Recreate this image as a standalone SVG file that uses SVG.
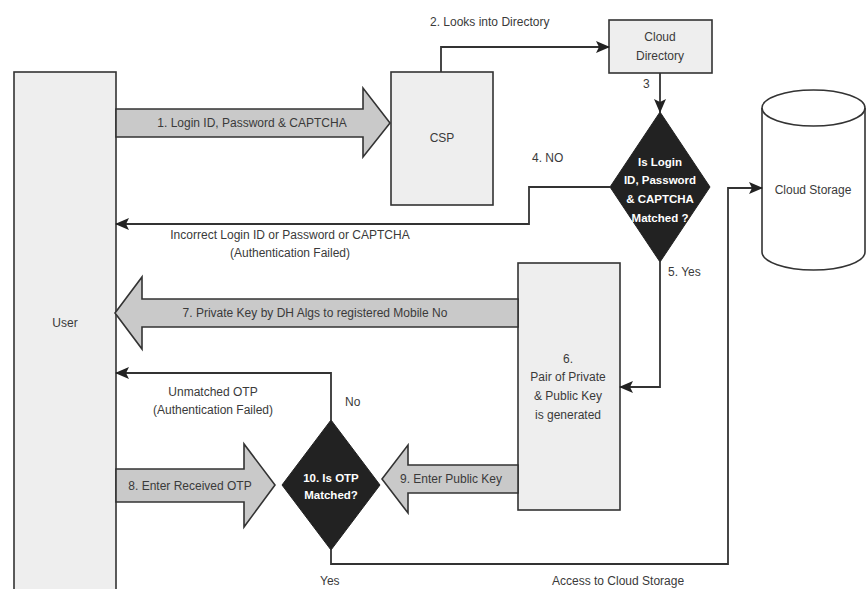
<svg xmlns="http://www.w3.org/2000/svg" width="866" height="589" viewBox="0 0 866 589">
<defs>
<style>
text{font-family:"Liberation Sans",Arial,sans-serif;font-size:12px;fill:#3a3a3a}
.c{text-anchor:middle}
.w{fill:#ffffff;font-weight:bold;font-size:11.5px}
.box{fill:#eeeeee;stroke:#333333;stroke-width:1.6}
.blk{fill:#c9c9c9;stroke:#333333;stroke-width:1.6;stroke-linejoin:miter}
.dia{fill:#222222;stroke:#222222;stroke-width:1}
.ln{fill:none;stroke:#333333;stroke-width:1.8}
</style>
<marker id="ah" markerWidth="14" markerHeight="12" refX="13" refY="6" orient="auto" markerUnits="userSpaceOnUse">
<path d="M0,0 L14,6 L0,12 L3,6 Z" fill="#222222"/>
</marker>
</defs>
<rect width="866" height="589" fill="#ffffff"/>

<g id="user">
<rect class="box" x="14" y="72" width="102" height="520"/>
<text class="c" x="65" y="327">User</text>
</g>

<g id="csp">
<rect class="box" x="391" y="72" width="102" height="133"/>
<text class="c" x="442" y="142">CSP</text>
</g>

<g id="cloud-directory">
<rect class="box" x="609" y="20" width="103" height="53"/>
<text class="c" x="660" y="41">Cloud</text>
<text class="c" x="660" y="60">Directory</text>
</g>

<g id="decision-login">
<polygon class="dia" points="660,112 710,187 660,262 610,187"/>
<text class="c w" x="660" y="166">Is Login</text>
<text class="c w" x="660" y="184">ID, Password</text>
<text class="c w" x="660" y="203">&amp; CAPTCHA</text>
<text class="c w" x="660" y="222">Matched ?</text>
</g>

<g id="cloud-storage">
<path d="M762,108 A51.5,18 0 0 1 865,108 V252 A51.5,18 0 0 1 762,252 Z" fill="#ffffff" stroke="#333333" stroke-width="1.6"/>
<path d="M762,108 A51.5,18 0 0 0 865,108" fill="none" stroke="#333333" stroke-width="1.6"/>
<text class="c" x="813" y="194">Cloud Storage</text>
</g>

<g id="keygen">
<rect class="box" x="518" y="263" width="102" height="247"/>
<text class="c" x="568" y="363">6.</text>
<text class="c" x="568" y="381">Pair of Private</text>
<text class="c" x="568" y="400">&amp; Public Key</text>
<text class="c" x="568" y="419">is generated</text>
</g>

<g id="decision-otp">
<polygon class="dia" points="331,420 380,485 331,550 282,485"/>
<text class="c w" x="331" y="482">10. Is OTP</text>
<text class="c w" x="331" y="499">Matched?</text>
</g>

<g id="connectors">
<g id="block-arrows">
<path class="blk" d="M116,109 L363,109 L363,88 L390,123 L363,157 L363,137 L116,137 Z"/>
<text class="c" x="252" y="127">1. Login ID, Password &amp; CAPTCHA</text>
<path class="blk" d="M518,299 L142,299 L142,277 L115,313 L142,349 L142,327 L518,327 Z"/>
<text class="c" x="315" y="317">7. Private Key by DH Algs to registered Mobile No</text>
<path class="blk" d="M116,469 L244,469 L244,444 L275,485 L244,527 L244,502 L116,502 Z"/>
<text class="c" x="190" y="490">8. Enter Received OTP</text>
<path class="blk" d="M518,465 L408,465 L408,445 L382,479 L408,513 L408,493 L518,493 Z"/>
<text class="c" x="451" y="483">9. Enter Public Key</text>
</g>
<path class="ln" d="M441,72 V47 H609" marker-end="url(#ah)"/>
<text x="430" y="26">2. Looks into Directory</text>
<path class="ln" d="M660,73 V112" marker-end="url(#ah)"/>
<text x="643" y="88">3</text>
<path class="ln" d="M610,187 H529 V224 H116" marker-end="url(#ah)"/>
<text x="532" y="162">4. NO</text>
<text class="c" x="290" y="239">Incorrect Login ID or Password or CAPTCHA</text>
<text class="c" x="290" y="257">(Authentication Failed)</text>
<path class="ln" d="M660,262 V387 H620" marker-end="url(#ah)"/>
<text x="668" y="276">5. Yes</text>
<path class="ln" d="M331,420 V373 H116" marker-end="url(#ah)"/>
<text class="c" x="213" y="396">Unmatched OTP</text>
<text class="c" x="213" y="414">(Authentication Failed)</text>
<text x="345" y="406">No</text>
<path class="ln" d="M331,550 V564 H728 V188 H762" marker-end="url(#ah)"/>
<text x="320" y="585">Yes</text>
<text x="552" y="585">Access to Cloud Storage</text>
</g>
</svg>
